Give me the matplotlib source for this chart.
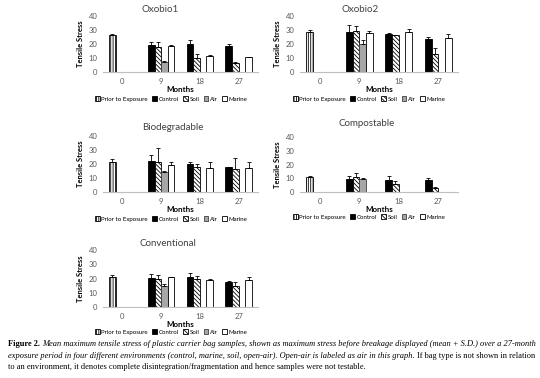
import matplotlib
matplotlib.use('Agg')
import matplotlib.pyplot as plt
import numpy as np

plt.rcParams['font.family'] = ['Lato', 'DejaVu Sans']
plt.rcParams['hatch.linewidth'] = 0.6

# %% data (tensile stress, mean and S.D.)
months = ['0', '9', '18', '27']
series = ['Prior to Exposure', 'Control', 'Soil', 'Air', 'Marine']
nan = np.nan

oxo1_prior, oxo1_prior_sd = 26.7, 0.5
oxo1_control = [19.5, 19.8, 18.8]; oxo1_control_sd = [2.2, 3.3, 1.4]
oxo1_soil = [17.8, 9.9, 6.7];     oxo1_soil_sd = [3.6, 3.3, 0.8]
oxo1_air = [7.2, nan, nan];       oxo1_air_sd = [0.8, 0, 0]
oxo1_marine = [18.8, 11.6, 10.6]; oxo1_marine_sd = [0.2, 0.2, 0.2]

oxo2_prior, oxo2_prior_sd = 28.7, 1.2
oxo2_control = [28.7, 27.2, 23.4]; oxo2_control_sd = [4.8, 0.5, 1.6]
oxo2_soil = [29.6, 26.3, 12.8];    oxo2_soil_sd = [3.6, 0.4, 4.1]
oxo2_air = [20.0, nan, nan];       oxo2_air_sd = [3.1, 0, 0]
oxo2_marine = [27.5, 28.9, 24.6];  oxo2_marine_sd = [2.1, 1.9, 2.4]

bio_prior, bio_prior_sd = 21.4, 2.0
bio_control = [22.2, 20.0, 17.6]; bio_control_sd = [4.3, 1.4, 0.5]
bio_soil = [21.7, 17.8, 16.4];    bio_soil_sd = [9.4, 2.0, 8.2]
bio_air = [14.0, nan, nan];       bio_air_sd = [0.9, 0, 0]
bio_marine = [19.5, 17.3, 16.9];  bio_marine_sd = [1.9, 4.1, 4.5]

comp_prior, comp_prior_sd = 10.6, 1.0
comp_control = [9.4, 8.9, 8.7]; comp_control_sd = [2.6, 2.9, 1.7]
comp_soil = [10.6, 5.5, 2.9];   comp_soil_sd = [2.9, 2.5, 0.7]
comp_air = [9.6, nan, nan];     comp_air_sd = [0.8, 0, 0]
comp_marine = [nan, nan, nan];  comp_marine_sd = [0, 0, 0]

conv_prior, conv_prior_sd = 21.4, 0.8
conv_control = [20.5, 21.0, 17.8]; conv_control_sd = [2.6, 2.6, 0.5]
conv_soil = [19.5, 19.5, 14.5];    conv_soil_sd = [3.2, 2.4, 2.8]
conv_air = [14.9, nan, nan];       conv_air_sd = [1.5, 0, 0]
conv_marine = [21.0, 18.8, 18.6];  conv_marine_sd = [0.4, 0.7, 2.8]

# %% styles
styles = {
    'Prior to Exposure': dict(color='white', edgecolor='black', hatch='|' * 7),
    'Control': dict(color='black', edgecolor='black'),
    'Soil': dict(color='white', edgecolor='black', hatch='\\' * 8),
    'Air': dict(color='#a6a6a6', edgecolor='#404040'),
    'Marine': dict(color='white', edgecolor='black'),
}
w = 0.17
offs = {'Control': -1.5, 'Soil': -0.5, 'Air': 0.5, 'Marine': 1.5}


def panel(rect, title, tpos, prior, prior_sd, vals, sds, legend_x):
    ax = fig.add_axes(rect)
    x = np.arange(len(months))
    # month 0 only has the prior bar
    ax.bar(x[0] - 1.5 * w, prior, w, linewidth=0.6, label='Prior to Exposure',
           **styles['Prior to Exposure'])
    ax.errorbar(x[0] - 1.5 * w, prior, yerr=[[0], [prior_sd]], fmt='none',
                ecolor='black', elinewidth=0.6, capsize=1.3, capthick=0.6)
    for name in ['Control', 'Soil', 'Air', 'Marine']:
        v = np.array(vals[name], dtype=float)
        s = np.array(sds[name], dtype=float)
        xs = x[1:] + offs[name] * w
        ax.bar(xs, v, w, linewidth=0.6, label=name, **styles[name])
        ok = ~np.isnan(v)
        ax.errorbar(xs[ok], v[ok], yerr=[np.zeros(ok.sum()), s[ok]], fmt='none',
                    ecolor='black', elinewidth=0.6, capsize=1.3, capthick=0.6)
    ax.set_xlim(-0.5, 3.5)
    ax.set_ylim(0, 40)
    ax.set_yticks([0, 10, 20, 30, 40])
    ax.set_xticks(x)
    ax.set_xticklabels(months)
    ax.tick_params(length=0, labelsize=5.5, colors='#595959', pad=4)
    for s in ['top', 'right', 'left']:
        ax.spines[s].set_visible(False)
    ax.spines['bottom'].set_color('#bfbfbf')
    ax.spines['bottom'].set_linewidth(0.8)
    ax.set_xlabel('Months', fontsize=5.8, fontweight='bold', labelpad=1)
    ax.set_ylabel('Tensile Stress', fontsize=5.5, fontweight='bold', labelpad=3)
    fig.text(tpos[0] / 540, 1 - tpos[1] / 378, title, fontsize=7, color='#404040',
             ha='center', va='center')
    h, l = ax.get_legend_handles_labels()
    fig.legend(h, l, loc='center', bbox_to_anchor=(legend_x[0] / 540, 1 - legend_x[1] / 378),
               ncol=5, fontsize=4.4, frameon=False, handlelength=0.8, handleheight=0.8,
               handletextpad=0.25, columnspacing=0.7, borderpad=0)
    return ax


fig = plt.figure(figsize=(5.4, 3.78), dpi=100)
fig.patch.set_facecolor('white')

L = [103 / 540, 155 / 540]
R = [300 / 540, 158 / 540]

panel([L[0], 1 - 72 / 378, L[1], 56 / 378], 'Oxobio1', (160, 9),
      oxo1_prior, oxo1_prior_sd,
      {'Control': oxo1_control, 'Soil': oxo1_soil, 'Air': oxo1_air, 'Marine': oxo1_marine},
      {'Control': oxo1_control_sd, 'Soil': oxo1_soil_sd, 'Air': oxo1_air_sd, 'Marine': oxo1_marine_sd},
      (171, 99))
panel([R[0], 1 - 72 / 378, R[1], 56 / 378], 'Oxobio2', (360, 9),
      oxo2_prior, oxo2_prior_sd,
      {'Control': oxo2_control, 'Soil': oxo2_soil, 'Air': oxo2_air, 'Marine': oxo2_marine},
      {'Control': oxo2_control_sd, 'Soil': oxo2_soil_sd, 'Air': oxo2_air_sd, 'Marine': oxo2_marine_sd},
      (369, 99))
panel([L[0], 1 - 192 / 378, L[1], 56 / 378], 'Biodegradable', (173, 127),
      bio_prior, bio_prior_sd,
      {'Control': bio_control, 'Soil': bio_soil, 'Air': bio_air, 'Marine': bio_marine},
      {'Control': bio_control_sd, 'Soil': bio_soil_sd, 'Air': bio_air_sd, 'Marine': bio_marine_sd},
      (171, 219))
panel([R[0], 1 - 192 / 378, R[1], 55 / 378], 'Compostable', (367, 124),
      comp_prior, comp_prior_sd,
      {'Control': comp_control, 'Soil': comp_soil, 'Air': comp_air, 'Marine': comp_marine},
      {'Control': comp_control_sd, 'Soil': comp_soil_sd, 'Air': comp_air_sd, 'Marine': comp_marine_sd},
      (369, 217))
panel([L[0], 1 - 307 / 378, L[1], 57 / 378], 'Conventional', (168, 243),
      conv_prior, conv_prior_sd,
      {'Control': conv_control, 'Soil': conv_soil, 'Air': conv_air, 'Marine': conv_marine},
      {'Control': conv_control_sd, 'Soil': conv_soil_sd, 'Air': conv_air_sd, 'Marine': conv_marine_sd},
      (171, 332))

# %% caption, drawn piece by piece so styles can change inside a line
cap_font = ['Liberation Serif', 'DejaVu Serif']
cap_size = 6.0
caption = [
    [('Figure 2. ', dict(fontweight='bold')),
     ('Mean maximum tensile stress of plastic carrier bag samples, shown as maximum stress '
      'before breakage displayed (mean + S.D.) over a 27-month', dict(style='italic'))],
    [('exposure period in four different environments (control, marine, soil, open-air). '
      'Open-air is labeled as air in this graph. ', dict(style='italic')),
     ('If bag type is not shown in relation', {})],
    [('to an environment, it denotes complete disintegration/fragmentation and hence '
      'samples were not testable.', {})],
]
renderer = fig.canvas.get_renderer()
for i, line in enumerate(caption):
    xx = 8 / 540
    yy = 1 - (344 + i * 11.5) / 378
    for txt, kw in line:
        t = fig.text(xx, yy, txt, fontsize=cap_size, family=cap_font, va='center', **kw)
        xx += t.get_window_extent(renderer).width / fig.bbox.width

fig.savefig('out.png', dpi=100)
